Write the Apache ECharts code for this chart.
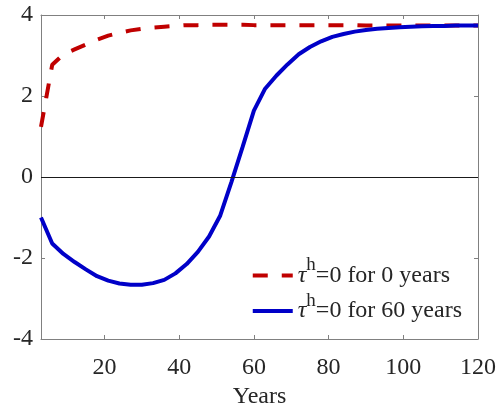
<!DOCTYPE html>
<html>
<head>
<meta charset="utf-8">
<script src="https://cdn.jsdelivr.net/npm/echarts@6/dist/echarts.min.js"></script>
<style>
  html, body { margin: 0; padding: 0; background: #fff; }
  #chart { width: 500px; height: 410px; }
</style>
</head>
<body>
<div id="chart"></div>
<script>
// years on the x axis
const years = [3, 6, 9, 12, 15, 18, 21, 24, 27, 30, 33, 36, 39, 42, 45, 48, 51, 54, 57, 60,
  63, 66, 69, 72, 75, 78, 81, 84, 87, 90, 93, 96, 99, 102, 105, 108, 111, 114, 117, 120]
// tau^h = 0 for 0 years
const zeroYears = [1.24, 2.77, 3.03, 3.15, 3.27, 3.39, 3.49, 3.56, 3.62, 3.66, 3.69, 3.71, 3.73, 3.75, 3.75, 3.76, 3.76, 3.76, 3.76, 3.75,
  3.75, 3.75, 3.75, 3.75, 3.75, 3.75, 3.75, 3.75, 3.75, 3.74, 3.74, 3.74, 3.74, 3.74, 3.74, 3.74, 3.74, 3.74, 3.74, 3.74]
// tau^h = 0 for 60 years
const sixtyYears = [-1.0, -1.64, -1.9, -2.1, -2.28, -2.45, -2.56, -2.63, -2.66, -2.66, -2.62, -2.54, -2.38, -2.15, -1.85, -1.47, -0.95, -0.12, 0.75, 1.64,
  2.18, 2.5, 2.78, 3.03, 3.21, 3.35, 3.46, 3.53, 3.59, 3.63, 3.66, 3.68, 3.70, 3.71, 3.72, 3.73, 3.73, 3.74, 3.74, 3.74]
const xTicks = [20, 40, 60, 80, 100, 120]
const seriesNames = ['0 years', '60 years']

const font = '"Liberation Serif", "Times New Roman", serif'
const axisGray = '#808080'
const textColor = '#262626'

const chart = echarts.init(document.getElementById('chart'))

const pair = (xs, ys) => xs.map((x, i) => [x, ys[i]])

const option = {
  animation: false,
  backgroundColor: '#fff',
  textStyle: { fontFamily: font },
  grid: { left: 41, right: 22, top: 15, bottom: 71, outerBoundsMode: 'none', containLabel: false },
  legend: {
    orient: 'vertical',
    right: 38,
    top: 256,
    padding: 0,
    itemGap: 4,
    itemWidth: 40,
    itemHeight: 20,
    data: seriesNames,
    itemStyle: { opacity: 0 },
    lineStyle: { width: 4 },
    formatter: name => '{t|τ}{s|h}{n|=0 for ' + name + '}',
    textStyle: {
      fontFamily: font,
      color: textColor,
      rich: {
        t: { fontSize: 24, fontStyle: 'italic', fontFamily: font, color: textColor },
        s: { fontSize: 19, fontFamily: font, color: textColor, padding: [0, 0, 20, 0] },
        n: { fontSize: 24, fontFamily: font, color: textColor }
      }
    }
  },
  xAxis: [
    {
      type: 'value',
      min: 3,
      max: 120,
      name: 'Years',
      nameLocation: 'middle',
      nameGap: 44,
      nameTextStyle: { fontSize: 24, color: textColor, fontFamily: font },
      axisLine: { onZero: false, lineStyle: { color: axisGray, width: 1 } },
      axisTick: { inside: true, length: 4, customValues: xTicks, lineStyle: { color: axisGray } },
      axisLabel: { customValues: xTicks, fontSize: 24, color: textColor, margin: 17, fontFamily: font },
      splitLine: { show: false }
    },
    {
      type: 'value',
      position: 'top',
      min: 3,
      max: 120,
      axisLine: { show: true, onZero: false, lineStyle: { color: axisGray, width: 1 } },
      axisTick: { inside: true, length: 4, customValues: xTicks, lineStyle: { color: axisGray } },
      axisLabel: { show: false },
      splitLine: { show: false }
    }
  ],
  yAxis: [
    {
      type: 'value',
      min: -4,
      max: 4,
      interval: 2,
      axisLine: { show: true, onZero: false, lineStyle: { color: axisGray, width: 1 } },
      axisTick: { show: true, inside: true, length: 4, lineStyle: { color: axisGray } },
      axisLabel: { fontSize: 24, color: textColor, margin: 8, fontFamily: font },
      splitLine: { show: false }
    },
    {
      type: 'value',
      position: 'right',
      min: -4,
      max: 4,
      interval: 2,
      axisLine: { show: true, onZero: false, lineStyle: { color: axisGray, width: 1 } },
      axisTick: { show: true, inside: true, length: 4, lineStyle: { color: axisGray } },
      axisLabel: { show: false },
      splitLine: { show: false }
    }
  ],
  series: [
    {
      name: seriesNames[0],
      type: 'line',
      data: pair(years, zeroYears),
      showSymbol: false,
      symbol: 'none',
      z: 3,
      lineStyle: { color: '#C00000', width: 4, type: [15, 14] },
      itemStyle: { color: '#C00000' },
      markLine: {
        silent: true,
        symbol: 'none',
        label: { show: false },
        lineStyle: { color: '#1a1a1a', width: 1, type: 'solid' },
        data: [{ yAxis: 0 }]
      }
    },
    {
      name: seriesNames[1],
      type: 'line',
      data: pair(years, sixtyYears),
      showSymbol: false,
      symbol: 'none',
      z: 4,
      lineStyle: { color: '#0000C8', width: 4 },
      itemStyle: { color: '#0000C8' }
    }
  ]
}

chart.setOption(option)
</script>
</body>
</html>
